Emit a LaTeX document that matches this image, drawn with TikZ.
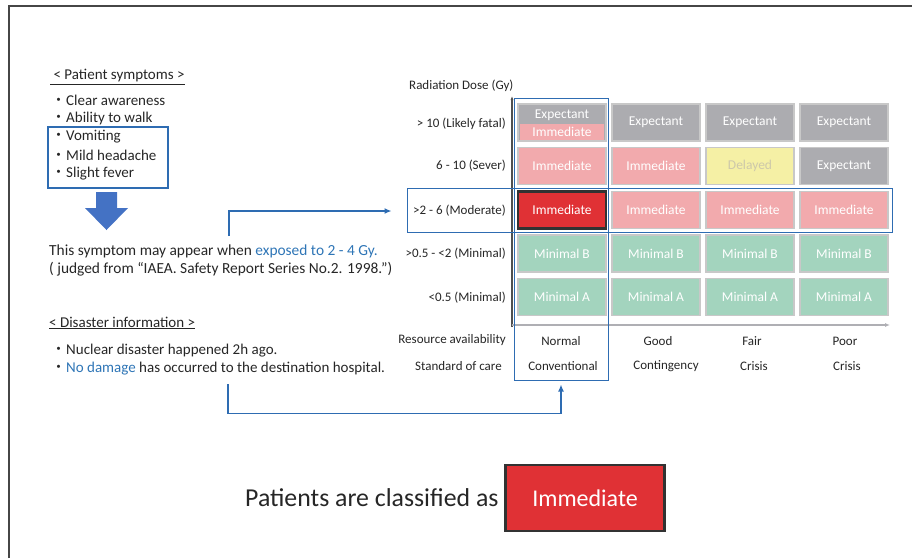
\documentclass[tikz,border=0pt]{standalone}
\usepackage{fontspec}
\setmainfont{Carlito}
\newfontfamily\cjk{Noto Sans CJK JP}
\usetikzlibrary{arrows.meta}
\definecolor{lnblue}{RGB}{46,108,178}
\definecolor{txblue}{RGB}{46,117,182}
\definecolor{arrblue}{RGB}{68,114,196}
\definecolor{cgray}{RGB}{172,172,176}
\definecolor{cpink}{RGB}{242,170,173}
\definecolor{cgreen}{RGB}{163,212,190}
\definecolor{cyellow}{RGB}{245,240,165}
\definecolor{cred}{RGB}{224,49,53}
\definecolor{cedge}{RGB}{200,200,200}
\definecolor{txdark}{RGB}{38,38,38}
\newcommand{\bul}{{\cjk ・}}
\begin{document}
\begin{tikzpicture}[x=1pt,y=-1pt,
  txt/.style={inner sep=0pt,anchor=west,text=txdark,font=\fontsize{15}{18}\selectfont},
  txtb/.style={txt,font=\fontsize{15.4}{18}\selectfont},
  gtxt/.style={inner sep=0pt,text=txdark,font=\fontsize{13}{15}\selectfont},
  cell/.style={draw=cedge,line width=1.5pt,minimum width=88pt,minimum height=37pt,inner sep=0pt,text=white,font=\fontsize{13.5}{15}\selectfont},
  cg/.style={cell,fill=cgray},
  cp/.style={cell,fill=cpink},
  cn/.style={cell,fill=cgreen},
  cy/.style={cell,fill=cyellow,text={rgb,255:red,205;green,200;blue,170}},
  hbox/.style={draw=lnblue,line width=1pt},
  conn/.style={draw=lnblue,line width=1.3pt,-{Latex[length=7pt,width=6pt]}}]
\useasboundingbox (0,0) rectangle (912,558);
\draw[line width=1.6pt,draw={rgb,255:red,70;green,70;blue,70}] (9,558) -- (9,6) -- (912,6);

% ---- left text
\node[txt] (ps) at (50,77) {\underline{\ < Patient symptoms >}};
\node[txt] (s1) at (51,100) {\bul Clear awareness};
\node[txt] (s2) at (51,118.5) {\bul Ability to walk};
\node[txt] (s3) at (51,137) {\bul Vomiting};
\node[txt] (s4) at (51,155.5) {\bul Mild headache};
\node[txt] (s5) at (51,174) {\bul Slight fever};
\draw[hbox,line width=1.2pt] (48,127) rectangle (168,188);
\fill[arrblue] (96,192) -- (117,192) -- (117,208) -- (128,208) -- (106.5,230) -- (85,208) -- (96,208) -- cycle;
\node[txtb] (t1) at (49,251) {This symptom may appear when \textcolor{txblue}{exposed to 2 - 4 Gy.}};
\node[txtb] (t2) at (49,269) {( judged from “IAEA. Safety Report Series No.2. 1998.”)};
\node[txt] (di) at (49,323) {\underline{< Disaster information >}};
\node[txt] (d1) at (51,351) {\bul Nuclear disaster happened 2h ago.};
\node[txt] (d2) at (51,369) {\bul \textcolor{txblue}{No damage} has occurred to the destination hospital.};

% ---- grid
\node[gtxt,anchor=west] (rd) at (409,86) {Radiation Dose (Gy)};
\draw[line width=1.3pt,draw={rgb,255:red,80;green,80;blue,80},-{Latex[length=4pt,width=3pt]}] (512,327) -- (512,96);
\draw[line width=1.2pt,draw={rgb,255:red,175;green,175;blue,180},-{Latex[length=5pt,width=4pt]}] (512,325) -- (890,325);

\node[gtxt,anchor=east] (r1) at (506,124) {> 10 (Likely fatal)};
\node[gtxt,anchor=east] (r2) at (506,166) {6 - 10 (Sever)};
\node[gtxt,anchor=east] (r3) at (506,211) {>2 - 6 (Moderate)};
\node[gtxt,anchor=east] (r4) at (506,254) {>0.5 - <2 (Minimal)};
\node[gtxt,anchor=east] (r5) at (506,298) {<0.5 (Minimal)};
\node[gtxt,anchor=east] (ra) at (506,340) {Resource availability};
\node[gtxt,anchor=east] (sc) at (502,366) {Standard of care};

% row 1
\node[cg] (c11) at (562,122.5) {};
\fill[cpink] (520,123.5) rectangle (604,139.5);
\node[gtxt,text=white,font=\fontsize{13.5}{15}\selectfont] (c11a) at (562,115) {Expectant};
\node[gtxt,text=white,font=\fontsize{13.5}{15}\selectfont] (c11b) at (562,131.5) {Immediate};
\node[cg] (c12) at (656,122.5) {Expectant};
\node[cg] (c13) at (750,122.5) {Expectant};
\node[cg] (c14) at (844,122.5) {Expectant};
% row 2
\node[cp] (c21) at (562,166) {Immediate};
\node[cp] (c22) at (656,166) {Immediate};
\node[cy] (c23) at (750,166) {Delayed};
\node[cg] (c24) at (844,166) {Expectant};
% row 3
\node[cell,fill=cred,draw={rgb,255:red,50;green,50;blue,50},line width=2.5pt] (c31) at (562,210) {Immediate};
\node[cp] (c32) at (656,210) {Immediate};
\node[cp] (c33) at (750,210) {Immediate};
\node[cp] (c34) at (844,210) {Immediate};
% row 4
\node[cn] (c41) at (562,253.5) {Minimal B};
\node[cn] (c42) at (656,253.5) {Minimal B};
\node[cn] (c43) at (750,253.5) {Minimal B};
\node[cn] (c44) at (844,253.5) {Minimal B};
% row 5
\node[cn] (c51) at (562,297) {Minimal A};
\node[cn] (c52) at (656,297) {Minimal A};
\node[cn] (c53) at (750,297) {Minimal A};
\node[cn] (c54) at (844,297) {Minimal A};

% column labels
\node[gtxt] (n1) at (561,341) {Normal};
\node[gtxt] (n2) at (658,341) {Good};
\node[gtxt] (n3) at (752,341) {Fair};
\node[gtxt] (n4) at (845,341) {Poor};
\node[gtxt] (m1) at (563,366) {Conventional};
\node[gtxt] (m2) at (666,366) {Contingency};
\node[gtxt] (m3) at (754,366) {Crisis};
\node[gtxt] (m4) at (847,366) {Crisis};

% highlight boxes
\node[hbox,minimum width=94pt,minimum height=282pt,inner sep=0pt] (colbox) at (561,239) {};
\node[hbox,minimum width=485pt,minimum height=44pt,inner sep=0pt] (rowbox) at (649.5,210) {};

% connectors
\coordinate (a1s) at (229,236);
\coordinate (a1m) at (229,211);
\coordinate (a2s) at (228,384);
\coordinate (a2m) at (228,413.5);
\path[conn,shorten >=15pt] (a1s) -- (a1m) -- (rowbox.west |- a1m);
\path[conn,shorten >=4pt] (a2s) -- (a2m) -| (colbox.south);

% bottom
\node[txt,font=\fontsize{25.8}{28}\selectfont] (pc) at (245,498) {Patients are classified as};
\node[draw={rgb,255:red,50;green,50;blue,50},line width=2.5pt,fill=cred,minimum width=159pt,minimum height=66pt,inner sep=0pt,text=white,font=\fontsize{24}{28}\selectfont] (res) at (585,498) {Immediate};
\end{tikzpicture}
\end{document}
